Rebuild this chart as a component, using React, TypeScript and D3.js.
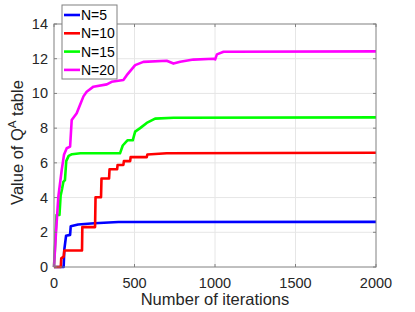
import React, { useEffect, useRef } from 'react';
import * as d3 from 'd3';

// values
const xTicks = [0, 500, 1000, 1500, 2000];
const yTicks = [0, 2, 4, 6, 8, 10, 12, 14];

const itersN5 = [0, 60, 64, 75, 100, 104, 150, 250, 400, 2000];
const valsN5 = [0, 0, 1.0, 1.8, 1.85, 2.35, 2.45, 2.52, 2.59, 2.6];

const itersN10 = [0, 42, 45, 60, 64, 174, 176, 255, 258, 292, 295, 342, 345, 392, 395, 431, 434, 473, 476, 576, 580, 700, 2000];
const valsN10 = [0, 0, 0.5, 0.6, 0.95, 0.95, 2.3, 2.3, 4.02, 4.02, 5.1, 5.1, 5.63, 5.63, 5.88, 5.88, 6.1, 6.1, 6.33, 6.33, 6.48, 6.55, 6.58];

const itersN15 = [0, 16, 34, 41, 50, 58, 68, 76, 91, 112, 164, 410, 427, 456, 489, 504, 535, 576, 628, 742, 2000];
const valsN15 = [0, 3.0, 3.0, 4.1, 4.5, 4.9, 5.0, 6.1, 6.4, 6.5, 6.55, 6.55, 7.0, 7.3, 7.3, 7.8, 8.0, 8.3, 8.55, 8.6, 8.62];

const itersN20 = [0, 12, 27, 48, 62, 79, 100, 110, 141, 162, 183, 203, 245, 328, 358, 431, 452, 504, 555, 700, 742, 784, 866, 991, 1001, 1012, 1053, 2000];
const valsN20 = [0, 1.94, 4.05, 5.59, 6.46, 6.84, 6.94, 8.47, 8.86, 9.35, 9.83, 10.1, 10.39, 10.52, 10.67, 10.77, 11.05, 11.63, 11.82, 11.88, 11.72, 11.82, 11.95, 12.0, 11.96, 12.25, 12.4, 12.42];

const seriesNames = ['N=5', 'N=10', 'N=15', 'N=20'];
const seriesColors = ['#0000ff', '#ff0000', '#00ff00', '#ff00ff'];
const seriesIters = [itersN5, itersN10, itersN15, itersN20];
const seriesVals = [valsN5, valsN10, valsN15, valsN20];

const App: React.FC = () => {
  const svgRef = useRef<SVGSVGElement>(null);

  useEffect(() => {
    if (!svgRef.current) return;
    const width = 415;
    const height = 312;
    const margin = { top: 24, right: 39, bottom: 45, left: 54 };
    const innerWidth = width - margin.left - margin.right;
    const innerHeight = height - margin.top - margin.bottom;
    const font = 'Liberation Sans, Arial, sans-serif';

    const svg = d3.select(svgRef.current).html('');
    const g = svg.append('g').attr('transform', `translate(${margin.left},${margin.top})`);

    const x = d3.scaleLinear().domain([0, 2000]).range([0, innerWidth]);
    const y = d3.scaleLinear().domain([0, 14]).range([innerHeight, 0]);

    g.append('rect')
      .attr('width', innerWidth)
      .attr('height', innerHeight)
      .attr('fill', '#fff');

    // grid
    g.selectAll('.vgrid').data(xTicks.slice(1, -1)).enter().append('line')
      .attr('x1', d => x(d)).attr('x2', d => x(d))
      .attr('y1', 0).attr('y2', innerHeight)
      .attr('stroke', '#e6e6e6').attr('stroke-width', 1);
    g.selectAll('.hgrid').data(yTicks.slice(1, -1)).enter().append('line')
      .attr('x1', 0).attr('x2', innerWidth)
      .attr('y1', d => y(d)).attr('y2', d => y(d))
      .attr('stroke', '#e6e6e6').attr('stroke-width', 1);

    // series
    const line = d3.line<[number, number]>()
      .x(d => x(d[0]))
      .y(d => y(d[1]));

    seriesIters.forEach((iters, i) => {
      const pts = iters.map((it, j) => [it, seriesVals[i][j]] as [number, number]);
      g.append('path')
        .datum(pts)
        .attr('fill', 'none')
        .attr('stroke', seriesColors[i])
        .attr('stroke-width', 2.6)
        .attr('stroke-linejoin', 'round')
        .attr('d', line);
    });

    // box + ticks (matlab style)
    g.append('rect')
      .attr('width', innerWidth)
      .attr('height', innerHeight)
      .attr('fill', 'none')
      .attr('stroke', '#808080')
      .attr('stroke-width', 1);

    const tickLen = 3;
    xTicks.forEach(t => {
      g.append('line').attr('x1', x(t)).attr('x2', x(t)).attr('y1', innerHeight).attr('y2', innerHeight - tickLen).attr('stroke', '#808080');
      g.append('line').attr('x1', x(t)).attr('x2', x(t)).attr('y1', 0).attr('y2', tickLen).attr('stroke', '#808080');
      g.append('text')
        .attr('x', x(t)).attr('y', innerHeight + 21)
        .attr('text-anchor', 'middle')
        .attr('font-family', font).attr('font-size', 14.5).attr('fill', '#262626')
        .text(t);
    });
    yTicks.forEach(t => {
      g.append('line').attr('x1', 0).attr('x2', tickLen).attr('y1', y(t)).attr('y2', y(t)).attr('stroke', '#808080');
      g.append('line').attr('x1', innerWidth).attr('x2', innerWidth - tickLen).attr('y1', y(t)).attr('y2', y(t)).attr('stroke', '#808080');
      g.append('text')
        .attr('x', -6).attr('y', y(t) + 5)
        .attr('text-anchor', 'end')
        .attr('font-family', font).attr('font-size', 14.5).attr('fill', '#262626')
        .text(t);
    });

    // axis labels
    g.append('text')
      .attr('x', innerWidth / 2).attr('y', innerHeight + 38)
      .attr('text-anchor', 'middle')
      .attr('font-family', font).attr('font-size', 16.5).attr('fill', '#262626')
      .text('Number of iterations');

    const yl = g.append('text')
      .attr('transform', `translate(-31,${innerHeight / 2 - 3}) rotate(-90)`)
      .attr('text-anchor', 'middle')
      .attr('font-family', font).attr('font-size', 16.5).attr('fill', '#262626');
    yl.append('tspan').text('Value of Q');
    yl.append('tspan').attr('dy', -7).attr('font-size', 11.5).text('A');
    yl.append('tspan').attr('dy', 7).text(' table');

    // legend
    const lg = svg.append('g').attr('transform', 'translate(62,5)');
    lg.append('rect')
      .attr('width', 55).attr('height', 74)
      .attr('fill', '#fff').attr('stroke', '#808080').attr('stroke-width', 1);
    seriesNames.forEach((name, i) => {
      const yy = 10 + i * 18.3;
      lg.append('line')
        .attr('x1', 2).attr('x2', 18).attr('y1', yy).attr('y2', yy)
        .attr('stroke', seriesColors[i]).attr('stroke-width', 2.6);
      lg.append('text')
        .attr('x', 19).attr('y', yy + 5)
        .attr('font-family', font).attr('font-size', 14).attr('fill', '#000')
        .text(name);
    });
  }, []);

  return <svg ref={svgRef} width={415} height={312} style={{ position: 'absolute', left: 0, top: 0 }} />;
};

export default App;
